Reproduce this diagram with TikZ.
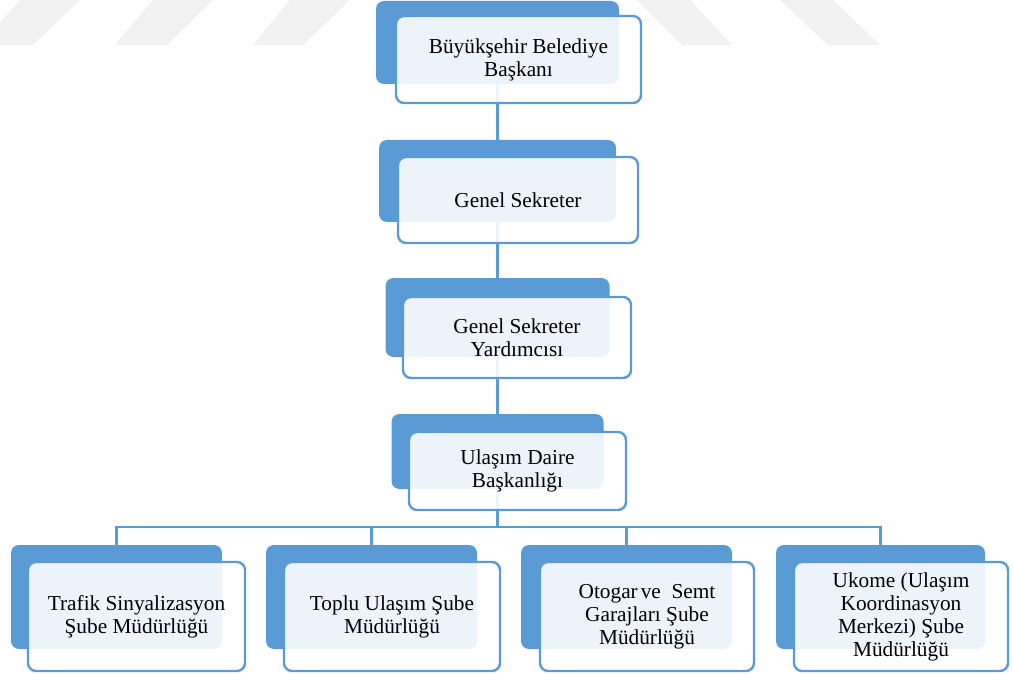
\documentclass[tikz,border=0pt]{standalone}
\usepackage{fontspec}
\setmainfont{Liberation Serif}
\definecolor{orgblue}{RGB}{91,155,213}
\definecolor{wmgray}{RGB}{241,241,241}
\tikzset{
  backbox/.style={fill=orgblue, draw=none, rounded corners=8pt, inner sep=0pt},
  frontbox/.style={fill=white, fill opacity=0.89, text opacity=1, draw=orgblue, line width=2.4pt,
    rounded corners=8pt, inner sep=0pt, align=center, text=black,
    font=\fontsize{21.3}{23}\selectfont},
  conn/.style={draw=orgblue, line width=2.2pt},
  wm/.style={fill=wmgray, draw=none}
}
\begin{document}
\begin{tikzpicture}[x=1pt,y=-1pt]
\useasboundingbox (0,0) rectangle (1013,674);
% watermark stripes
\fill[wm] (20,0) -- (80,0) -- (33,45) -- (-20,45) -- cycle;
\fill[wm] (153,0) -- (213,0) -- (167,45) -- (115,45) -- cycle;
\fill[wm] (290,0) -- (350,0) -- (303,45) -- (253,45) -- cycle;
\fill[wm] (637,0) -- (690,0) -- (732,45) -- (682,45) -- cycle;
\fill[wm] (780,0) -- (833,0) -- (880,45) -- (828,45) -- cycle;
\clip (0,0) rectangle (1013,674);
% back boxes
\node[backbox, minimum width=243pt, minimum height=83pt] (b1) at (497.5,42.5) {};
\node[backbox, minimum width=237pt, minimum height=82pt] (b2) at (497.5,181) {};
\node[backbox, minimum width=224pt, minimum height=79pt] (b3) at (497.5,317.5) {};
\node[backbox, minimum width=212pt, minimum height=75pt] (b4) at (497.5,451.5) {};
\node[backbox, minimum width=211pt, minimum height=104pt] (ba) at (116.5,597) {};
\node[backbox, minimum width=211pt, minimum height=104pt] (bb) at (371.5,597) {};
\node[backbox, minimum width=211pt, minimum height=104pt] (bc) at (626.5,597) {};
\node[backbox, minimum width=209pt, minimum height=104pt] (bd) at (880.5,597) {};
\coordinate (bus) at (0,527);
% connectors
\draw[conn] (b1.south) -- (b2.north);
\draw[conn] (b2.south) -- (b3.north);
\draw[conn] (b3.south) -- (b4.north);
\draw[conn] (b4.south) -- (b4.south |- bus);
\draw[conn] (ba.north) |- (bd.north |- bus) -- (bd.north);
\draw[conn] (bb.north) -- (bb.north |- bus);
\draw[conn] (bc.north) -- (bc.north |- bus);
% front boxes
\node[frontbox, minimum width=245pt, minimum height=87pt] (f1) at (518.5,59.5) {Büyükşehir Belediye\\Başkanı};
\node[frontbox, minimum width=240pt, minimum height=86pt] (f2) at (518,200) {Genel Sekreter};
\node[frontbox, minimum width=228pt, minimum height=81pt] (f3) at (517,337.5) {Genel Sekreter\\Yardımcısı};
\node[frontbox, minimum width=217pt, minimum height=78pt] (f4) at (517.5,471) {Ulaşım Daire\\Başkanlığı};
\node[frontbox, minimum width=217pt, minimum height=109pt] (fa) at (136.5,616.5) {Trafik Sinyalizasyon\\Şube Müdürlüğü};
\node[frontbox, minimum width=216pt, minimum height=109pt] (fb) at (392,616.5) {Toplu Ulaşım Şube\\Müdürlüğü};
\node[frontbox, minimum width=214pt, minimum height=109pt] (fc) at (647,616.5) {Otogar\kern3pt ve~ Semt\\Garajları Şube\\Müdürlüğü};
\node[frontbox, minimum width=214pt, minimum height=109pt] (fd) at (901,616.5) {Ukome (Ulaşım\\Koordinasyon\\Merkezi) Şube\\Müdürlüğü};
\end{tikzpicture}
\end{document}
